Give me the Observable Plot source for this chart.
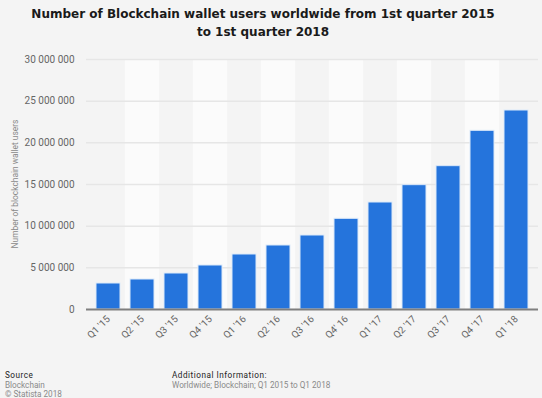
<!DOCTYPE html>
<html>
<head>
<meta charset="utf-8">
<script src="https://cdn.jsdelivr.net/npm/d3@7"></script>
<script src="https://cdn.jsdelivr.net/npm/@observablehq/plot@0.6"></script>
<style>
  html, body { margin: 0; padding: 0; background: #f4f4f4; }
  #wrap { position: relative; width: 542px; height: 398px; overflow: hidden; font-family: "DejaVu Sans", sans-serif; }
  #title { position: absolute; left: 0; top: 5px; width: 526px; text-align: center; font-weight: bold; font-size: 12px; line-height: 18px; color: #1a1a1a; }
  #chart { position: absolute; left: 0; top: 46px; }
  #ytitle { position: absolute; left: 15px; top: 184px; width: 200px; margin-left: -100px; margin-top: -5px; height: 10px; line-height: 10px; text-align: center; transform: rotate(-90deg); font-family: Roboto, sans-serif; font-size: 8.4px; color: #8a8a8a; white-space: nowrap; }
  .foot { position: absolute; font-family: Roboto, sans-serif; font-size: 8.2px; line-height: 9.6px; color: #8a8a8a; }
  .foot b { font-weight: normal; color: #222; letter-spacing: 0.5px; }
</style>
</head>
<body>
<div id="wrap">
  <div id="title">Number of Blockchain wallet users worldwide from 1st quarter 2015<br>to 1st quarter 2018</div>
  <div id="chart"></div>
  <div id="ytitle"></div>
  <div class="foot" style="left:5px; top:371px;"><b>Source</b><br>Blockchain<br>© Statista 2018</div>
  <div class="foot" style="left:172px; top:371px;"><b>Additional Information:</b><br>Worldwide; Blockchain; Q1 2015 to Q1 2018</div>
</div>
<script>
const quarters = ["Q1 '15", "Q2 '15", "Q3 '15", "Q4 '15", "Q1 '16", "Q2 '16", "Q3 '16", "Q4' 16", "Q1 '17", "Q2 '17", "Q3 '17", "Q4 '17", "Q1 '18"];
const users = [3120000, 3600000, 4320000, 5280000, 6600000, 7680000, 8880000, 10880000, 12840000, 14920000, 17200000, 21440000, 23880000];
const yTicks = [0, 5000000, 10000000, 15000000, 20000000, 25000000, 30000000];
const yTitle = "Number of blockchain wallet users";

const data = quarters.map((q, i) => ({q, v: users[i]}));
const stripes = quarters.filter((q, i) => i % 2 === 1).map(q => ({q}));
const fmt = d => d3.format(",")(d).replace(/,/g, " ");

const chart = Plot.plot({
  width: 542,
  height: 324,
  marginLeft: 86,
  marginRight: 4,
  marginTop: 13,
  marginBottom: 61,
  style: {background: "transparent", fontFamily: "Roboto, sans-serif"},
  x: {domain: quarters, paddingInner: 0.29, paddingOuter: 0.145, label: null},
  y: {domain: [0, 30000000], label: null},
  marks: [
    Plot.barY(stripes, {x: "q", y1: 0, y2: 30000000, fill: "#fbfbfb", insetLeft: -5.1, insetRight: -5.1}),
    Plot.ruleY(yTicks.slice(1), {stroke: "#e6e6e6", strokeWidth: 1.5}),
    Plot.barY(data, {x: "q", y: "v", fill: "#2574dc", stroke: "#dce9f9", strokeWidth: 1}),
    Plot.ruleY([0], {stroke: "#7f7f7f", strokeWidth: 2}),
    Plot.axisY({ticks: yTicks, tickFormat: fmt, tickSize: 0, tickPadding: 12, fontSize: 10, color: "#666", label: null}),
    Plot.axisX({tickSize: 0, tickRotate: -45, tickPadding: 8, fontSize: 9.8, color: "#666", label: null})
  ]
});
document.getElementById("chart").appendChild(chart);
document.getElementById("ytitle").textContent = yTitle;
</script>
</body>
</html>
